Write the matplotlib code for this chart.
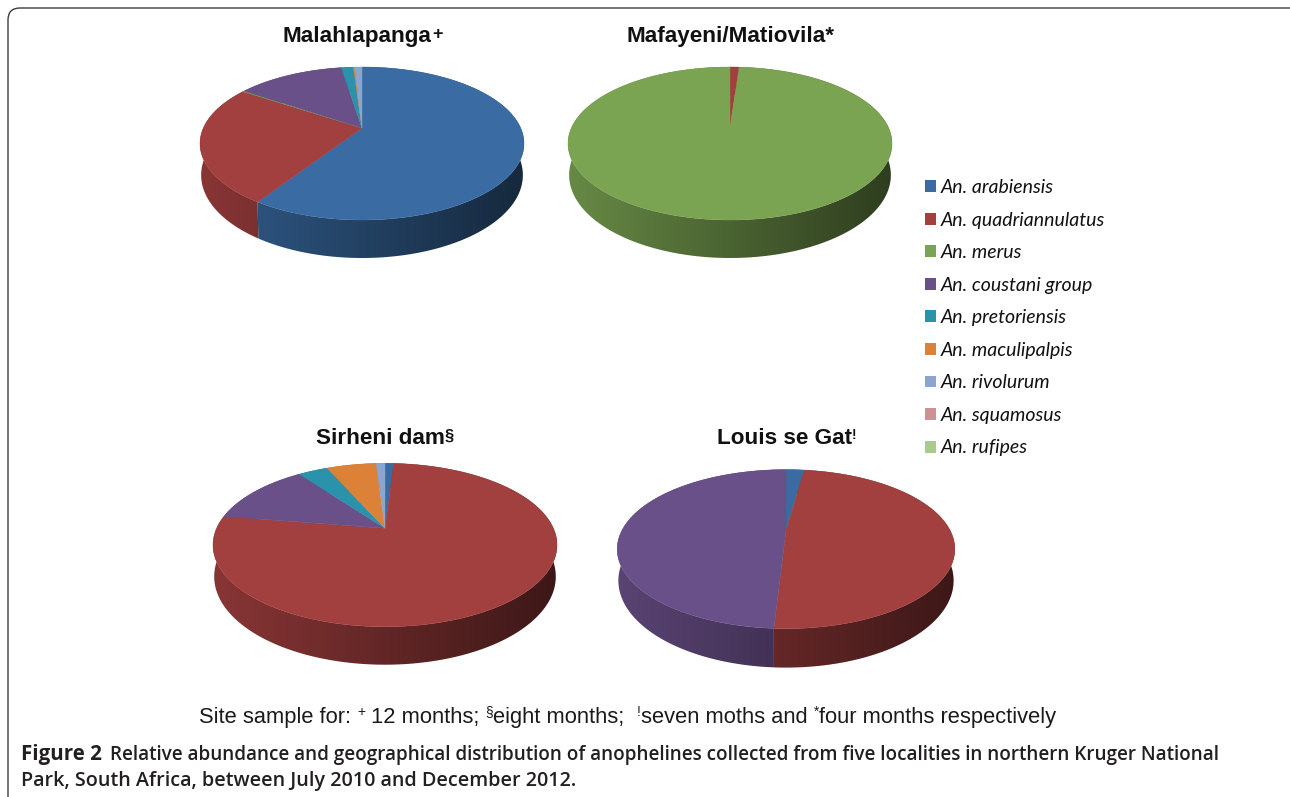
import numpy as np
import matplotlib
matplotlib.use("Agg")
import matplotlib.pyplot as plt
from matplotlib.patches import Patch, FancyBboxPatch, Polygon

W, H = 1290, 797

species = ["An. arabiensis", "An. quadriannulatus", "An. merus", "An. coustani group",
           "An. pretoriensis", "An. maculipalpis", "An. rivolurum", "An. squamosus", "An. rufipes"]
colors = ["#3a6ca3", "#a23f3f", "#7aa352", "#6a5088", "#2a93ab", "#dc8238", "#8aa5cf", "#cf8f93", "#a9c98f"]

# percent per species
malahlapanga = [59.2, 25.1, 0.2, 13.0, 1.45, 0.15, 0.9, 0, 0]
mafayeni = [0, 1.1, 98.9, 0, 0, 0, 0, 0, 0]
sirheni = [1.0, 76.5, 0, 12.4, 3.4, 5.7, 1.0, 0, 0]
louis = [2.2, 48.7, 0, 49.1, 0, 0, 0, 0, 0]


def to_xy(theta, g):
    # perspective view of a flat disc, theta clockwise from the back
    a, b, rx = g["a"], g["b"], g["rx"]
    k = (b - a) / (b + a)
    s = a * (1 + k)
    w = rx * np.sqrt(1 - k * k)
    u, v = np.sin(theta), np.cos(theta)
    d = 1 + k * v
    return w * u / d, s * v / d, 1 / d


def draw_pie(values, g):
    # axes box in pixels, data units are pixels from the slice apex
    x0, x1 = g["cx"] - g["rx"] - 2, g["cx"] + g["rx"] + 2
    y0, y1 = g["ay"] - g["a"] - 2, g["ay"] + g["b"] + g["depth"] + 2
    ax = fig.add_axes([x0 / W, 1 - y1 / H, (x1 - x0) / W, (y1 - y0) / H])
    xlim = (x0 - g["cx"], x1 - g["cx"])
    ylim = (g["ay"] - y1, g["ay"] - y0)
    ax.axis("off")
    ax.patch.set_alpha(0)

    k = (g["b"] - g["a"]) / (g["b"] + g["a"])
    dz = g["depth"] * (1 - k)
    edges = np.radians(np.cumsum([0] + list(values)) * 3.6)

    # left to right shading of the wall
    pos = np.linspace(0, 1, 40)
    shade = 0.84 - 0.46 * pos

    for i, c in enumerate(colors):
        if values[i] == 0:
            continue
        n = max(3, int((edges[i + 1] - edges[i]) / np.radians(1)))
        x, y, sc = to_xy(np.linspace(edges[i], edges[i + 1], n + 1), g)
        rgb = np.array(matplotlib.colors.to_rgb(c))

        # side wall: gradient clipped to the slice's outline
        wall = Polygon(np.c_[np.r_[x, (x * 0.993)[::-1]], np.r_[y, (y - dz * sc)[::-1]]],
                       closed=True, transform=ax.transData, fc="none", ec="none")
        ax.add_patch(wall)
        grad = (shade[:, None] * rgb)[None, :, :]
        im = ax.imshow(grad, extent=(-g["rx"], g["rx"], ylim[0], ylim[1]), aspect="auto",
                       interpolation="bilinear", zorder=1)
        im.set_clip_path(wall)

    for i, c in enumerate(colors):
        if values[i] == 0:
            continue
        n = max(3, int((edges[i + 1] - edges[i]) / np.radians(1)))
        x, y, _ = to_xy(np.linspace(edges[i], edges[i + 1], n + 1), g)
        ax.fill(np.r_[0, x], np.r_[0, y], color=c, lw=0.3, zorder=2)

    ax.set_xlim(xlim)
    ax.set_ylim(ylim)
    return ax


def text_runs(x, y, runs, **kw):
    # runs of (text, size, rise in px), laid out left to right on one baseline
    r = fig.canvas.get_renderer()
    for s, size, rise in runs:
        t = fig.text(x / W, 1 - (y - rise) / H, s, fontsize=size, va="baseline", ha="left", **kw)
        x += t.get_window_extent(r).width
    return x


fig = plt.figure(figsize=(W / 100, H / 100), dpi=100, facecolor="white")

bg = fig.add_axes([0, 0, 1, 1])
bg.set_xlim(0, W)
bg.set_ylim(H, 0)
bg.axis("off")
# panel frame runs off the right and bottom of the picture
bg.add_patch(FancyBboxPatch((20, 20), W - 11, H - 17, boxstyle="round,pad=12,rounding_size=12",
                            fc="none", ec="#3c3c3c", lw=1.0))

draw_pie(malahlapanga, dict(cx=362, ay=128, a=61, b=92, rx=162, depth=38))
draw_pie(mafayeni, dict(cx=730, ay=128, a=61, b=92, rx=162, depth=38))
draw_pie(sirheni, dict(cx=385, ay=528.3, a=65, b=98.4, rx=172, depth=38))
draw_pie(louis, dict(cx=786, ay=530.3, a=60.7, b=98.3, rx=168.8, depth=39))

sans = "Liberation Sans"
tsize = 16.2
text_runs(283, 42, [("Malahlapanga", tsize, 0), ("+", 13, 3)], family=sans, weight="bold", color="#111111")
text_runs(626, 42, [("Mafayeni/Matiovila*", tsize, 0)], family=sans, weight="bold", color="#111111")
text_runs(316, 444, [("Sirheni dam", tsize, 0), ("§", 12, 3)], family=sans, weight="bold", color="#111111")
text_runs(717, 444, [("Louis se Gat", tsize, 0), ("!", 10, 5)], family=sans, weight="bold", color="#111111")

handles = [Patch(fc=c, ec="none") for c in colors]
fig.legend(handles, species, loc="upper left", bbox_to_anchor=(925 / W, 1 - 179 / H), frameon=False,
           prop=dict(family="Lato", style="italic", size=14), labelcolor="#111111",
           handlelength=0.565, handleheight=0.565, handletextpad=0.26, labelspacing=0.80,
           borderpad=0, borderaxespad=0)

foot = 15.75
text_runs(199, 723, [("Site sample for: ", foot, 0), ("+", 10, 7), (" 12 months; ", foot, 0), ("§", 10, 7),
                     ("eight months;  ", foot, 0), ("!", 10, 7), ("seven moths and ", foot, 0), ("*", 10, 7),
                     ("four months respectively", foot, 0)], family=sans, color="#1a1a1a")

cap = "Open Sans"
text_runs(21, 760, [("Figure 2", 14.8, 0)], family=cap, weight="bold", color="#231f20")
text_runs(110, 760, [("Relative abundance and geographical distribution of anophelines collected from five localities in northern Kruger National", 13.62, 0)],
          family=cap, weight="semibold", color="#231f20")
text_runs(21, 786, [("Park, South Africa, between July 2010 and December 2012.", 14.2, 0)],
          family=cap, weight="semibold", color="#231f20")

fig.savefig("out.png", dpi=100)
